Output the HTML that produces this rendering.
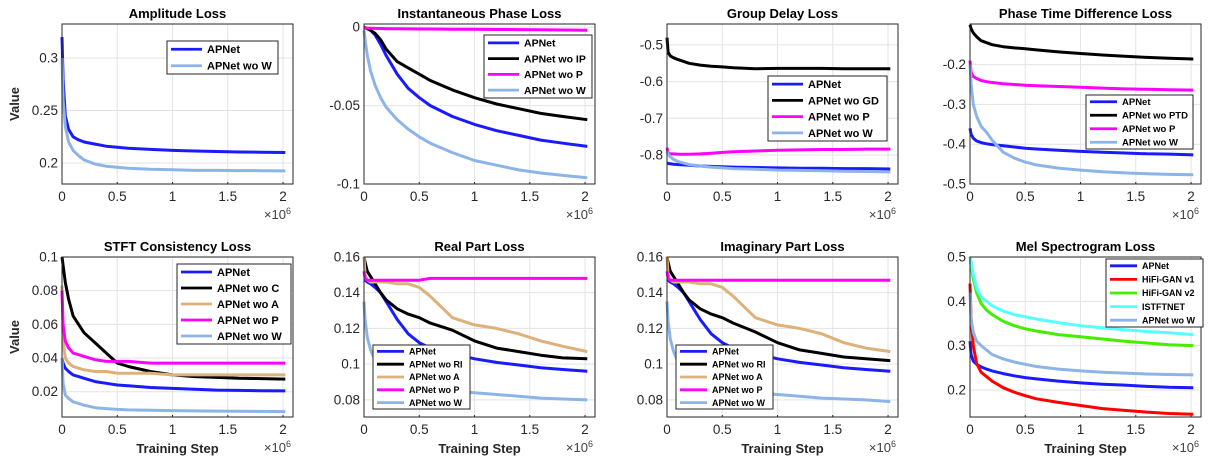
<!DOCTYPE html>
<html><head><meta charset="utf-8"><style>
body{margin:0;background:#fff;}
svg{display:block;font-family:"Liberation Sans",Arial,sans-serif;}
</style></head><body>
<svg id="fig" width="1223" height="472" viewBox="0 0 1223 472"></svg>
<script>
const xSteps=[0,0.01,0.03,0.06,0.1,0.15,0.2,0.3,0.4,0.5,0.6,0.8,1.0,1.2,1.4,1.6,1.8,2.02];
const xTicks=[0,0.5,1,1.5,2];
const xTickLabels=["0","0.5","1","1.5","2"];

const ampAPNet=[0.32,0.28,0.245,0.232,0.225,0.222,0.22,0.218,0.216,0.215,0.214,0.213,0.212,0.2115,0.211,0.2105,0.2103,0.21];
const ampWoW=[0.30,0.26,0.235,0.22,0.212,0.207,0.203,0.199,0.197,0.196,0.195,0.194,0.1935,0.193,0.193,0.1928,0.1927,0.1925];
const ampTicks=[0.2,0.25,0.3];

const ipAPNet=[0,-0.0005,-0.001,-0.002,-0.005,-0.011,-0.018,-0.03,-0.039,-0.045,-0.05,-0.057,-0.062,-0.066,-0.069,-0.072,-0.074,-0.076];
const ipWoIP=[0,-0.0003,-0.001,-0.002,-0.004,-0.008,-0.014,-0.022,-0.026,-0.03,-0.034,-0.04,-0.045,-0.049,-0.052,-0.055,-0.057,-0.059];
const ipWoP=[-0.0005,-0.0005,-0.0006,-0.0007,-0.0008,-0.0009,-0.001,-0.001,-0.0011,-0.0012,-0.0012,-0.0013,-0.0014,-0.0015,-0.0016,-0.0017,-0.0018,-0.002];
const ipWoW=[-0.002,-0.008,-0.018,-0.028,-0.037,-0.045,-0.051,-0.059,-0.065,-0.07,-0.074,-0.08,-0.085,-0.088,-0.091,-0.093,-0.0945,-0.096];
const ipTicks=[-0.1,-0.05,0];

const gdAPNet=[-0.822,-0.823,-0.824,-0.825,-0.826,-0.827,-0.828,-0.83,-0.831,-0.832,-0.833,-0.834,-0.835,-0.836,-0.836,-0.837,-0.837,-0.838];
const gdWoGD=[-0.48,-0.52,-0.53,-0.535,-0.54,-0.545,-0.55,-0.555,-0.558,-0.56,-0.562,-0.565,-0.564,-0.564,-0.564,-0.565,-0.565,-0.565];
const gdWoP=[-0.78,-0.795,-0.797,-0.797,-0.798,-0.798,-0.798,-0.797,-0.795,-0.793,-0.791,-0.789,-0.787,-0.786,-0.785,-0.785,-0.784,-0.784];
const gdWoW=[-0.79,-0.798,-0.805,-0.812,-0.818,-0.822,-0.826,-0.83,-0.833,-0.835,-0.837,-0.839,-0.841,-0.842,-0.843,-0.844,-0.845,-0.846];
const gdTicks=[-0.8,-0.7,-0.6,-0.5];

const ptdAPNet=[-0.36,-0.375,-0.385,-0.392,-0.396,-0.399,-0.401,-0.404,-0.407,-0.41,-0.412,-0.415,-0.418,-0.42,-0.422,-0.424,-0.425,-0.427];
const ptdWoPTD=[-0.1,-0.11,-0.12,-0.13,-0.14,-0.145,-0.15,-0.155,-0.158,-0.16,-0.163,-0.168,-0.172,-0.176,-0.179,-0.182,-0.184,-0.186];
const ptdWoP=[-0.19,-0.22,-0.23,-0.235,-0.24,-0.243,-0.245,-0.248,-0.25,-0.252,-0.253,-0.255,-0.257,-0.259,-0.261,-0.262,-0.263,-0.264];
const ptdWoW=[-0.2,-0.25,-0.3,-0.33,-0.355,-0.37,-0.39,-0.42,-0.435,-0.445,-0.452,-0.46,-0.465,-0.469,-0.472,-0.474,-0.476,-0.477];
const ptdTicks=[-0.5,-0.4,-0.3,-0.2];

const scAPNet=[0.04,0.037,0.034,0.032,0.03,0.029,0.028,0.026,0.025,0.024,0.0235,0.0225,0.022,0.0215,0.021,0.0208,0.0206,0.0205];
const scWoC=[0.1,0.095,0.085,0.075,0.065,0.06,0.055,0.049,0.043,0.037,0.035,0.032,0.03,0.029,0.0285,0.028,0.0278,0.0275];
const scWoA=[0.083,0.05,0.04,0.037,0.035,0.034,0.033,0.032,0.032,0.031,0.031,0.031,0.03,0.03,0.03,0.03,0.03,0.03];
const scWoP=[0.08,0.06,0.05,0.046,0.043,0.042,0.041,0.039,0.038,0.038,0.038,0.037,0.037,0.037,0.037,0.037,0.037,0.037];
const scWoW=[0.04,0.025,0.018,0.016,0.014,0.013,0.012,0.0105,0.01,0.0095,0.0092,0.009,0.0088,0.0086,0.0085,0.0084,0.0083,0.0082];
const scTicks=[0.02,0.04,0.06,0.08,0.1];

const reAPNet=[0.147,0.147,0.146,0.145,0.143,0.14,0.135,0.125,0.117,0.112,0.109,0.106,0.103,0.101,0.0995,0.098,0.097,0.096];
const reWoRI=[0.16,0.157,0.152,0.149,0.145,0.14,0.136,0.131,0.128,0.126,0.123,0.119,0.113,0.109,0.107,0.105,0.1035,0.103];
const reWoA=[0.16,0.15,0.147,0.146,0.146,0.146,0.146,0.145,0.145,0.143,0.138,0.126,0.122,0.12,0.117,0.113,0.11,0.107];
const reWoP=[0.152,0.148,0.147,0.147,0.147,0.147,0.147,0.147,0.147,0.147,0.148,0.148,0.148,0.148,0.148,0.148,0.148,0.148];
const reWoW=[0.135,0.125,0.115,0.108,0.102,0.098,0.095,0.092,0.09,0.088,0.087,0.085,0.084,0.083,0.082,0.081,0.0805,0.08];
const riTicks=[0.08,0.1,0.12,0.14,0.16];

const imAPNet=[0.147,0.147,0.146,0.145,0.143,0.14,0.135,0.125,0.117,0.112,0.109,0.106,0.103,0.101,0.0995,0.098,0.097,0.096];
const imWoRI=[0.16,0.157,0.152,0.149,0.145,0.14,0.136,0.131,0.128,0.126,0.123,0.118,0.112,0.108,0.106,0.104,0.103,0.102];
const imWoA=[0.16,0.15,0.147,0.146,0.146,0.146,0.146,0.145,0.145,0.143,0.138,0.126,0.122,0.12,0.117,0.112,0.109,0.107];
const imWoP=[0.152,0.148,0.147,0.147,0.147,0.147,0.147,0.147,0.147,0.147,0.147,0.147,0.147,0.147,0.147,0.147,0.147,0.147];
const imWoW=[0.135,0.124,0.114,0.107,0.101,0.097,0.094,0.091,0.089,0.087,0.086,0.084,0.083,0.082,0.081,0.0805,0.08,0.079];

const melAPNet=[0.31,0.28,0.265,0.258,0.252,0.247,0.243,0.237,0.232,0.228,0.225,0.22,0.216,0.213,0.211,0.208,0.206,0.205];
const melHifiV1=[0.44,0.36,0.3,0.26,0.24,0.23,0.22,0.205,0.195,0.187,0.18,0.172,0.165,0.158,0.154,0.15,0.147,0.145];
const melHifiV2=[0.5,0.48,0.45,0.42,0.395,0.38,0.37,0.355,0.345,0.338,0.333,0.325,0.32,0.315,0.31,0.306,0.302,0.3];
const melIstft=[0.5,0.49,0.46,0.43,0.41,0.4,0.39,0.378,0.37,0.365,0.36,0.352,0.345,0.34,0.336,0.332,0.329,0.325];
const melWoW=[0.42,0.36,0.33,0.31,0.3,0.29,0.28,0.27,0.263,0.258,0.253,0.247,0.243,0.24,0.238,0.236,0.235,0.234];
const melTicks=[0.2,0.3,0.4,0.5];

const C={blue:"#1a1aff",black:"#000",mag:"#ff00ff",lb:"#8db4e8",tan:"#deb07a",red:"#ff0000",green:"#44ee00",cyan:"#55ffff"};
const NS="http://www.w3.org/2000/svg";
const svg=document.getElementById("fig");
function mk(tag,attrs,parent){const e=document.createElementNS(NS,tag);for(const k in attrs)e.setAttribute(k,attrs[k]);(parent||svg).appendChild(e);return e;}

const panels=[
 {name:"amplitude",title:"Amplitude Loss",x:62,y:24,ymin:0.18,ymax:0.3325,ticks:ampTicks,ylab:true,xlab:false,
  series:[["APNet",ampAPNet,C.blue],["APNet wo W",ampWoW,C.lb]],leg:[167,41,111,33,11]},
 {name:"instantaneous-phase",title:"Instantaneous Phase Loss",x:364,y:24,ymin:-0.1,ymax:0.002,ticks:ipTicks,
  series:[["APNet",ipAPNet,C.blue],["APNet wo IP",ipWoIP,C.black],["APNet wo P",ipWoP,C.mag],["APNet wo W",ipWoW,C.lb]],leg:[484,35,108,63,10.5]},
 {name:"group-delay",title:"Group Delay Loss",x:667,y:24,ymin:-0.879,ymax:-0.443,ticks:gdTicks,
  series:[["APNet",gdAPNet,C.blue],["APNet wo GD",gdWoGD,C.black],["APNet wo P",gdWoP,C.mag],["APNet wo W",gdWoW,C.lb]],leg:[768,76,119,65,11]},
 {name:"phase-time-difference",title:"Phase Time Difference Loss",x:970,y:24,ymin:-0.5,ymax:-0.098,ticks:ptdTicks,
  series:[["APNet",ptdAPNet,C.blue],["APNet wo PTD",ptdWoPTD,C.black],["APNet wo P",ptdWoP,C.mag],["APNet wo W",ptdWoW,C.lb]],leg:[1086,95,107,54,9.5]},
 {name:"stft-consistency",title:"STFT Consistency Loss",x:62,y:257,ymin:0.005,ymax:0.1,ticks:scTicks,ylab:true,xlab:true,
  series:[["APNet",scAPNet,C.blue],["APNet wo C",scWoC,C.black],["APNet wo A",scWoA,C.tan],["APNet wo P",scWoP,C.mag],["APNet wo W",scWoW,C.lb]],leg:[177,264,114,80,11]},
 {name:"real-part",title:"Real Part Loss",x:364,y:257,ymin:0.0704,ymax:0.16,ticks:riTicks,xlab:true,
  series:[["APNet",reAPNet,C.blue],["APNet wo RI",reWoRI,C.black],["APNet wo A",reWoA,C.tan],["APNet wo P",reWoP,C.mag],["APNet wo W",reWoW,C.lb]],leg:[373,345,97,64,9]},
 {name:"imaginary-part",title:"Imaginary Part Loss",x:667,y:257,ymin:0.0704,ymax:0.16,ticks:riTicks,xlab:true,
  series:[["APNet",imAPNet,C.blue],["APNet wo RI",imWoRI,C.black],["APNet wo A",imWoA,C.tan],["APNet wo P",imWoP,C.mag],["APNet wo W",imWoW,C.lb]],leg:[676,345,97,64,9]},
 {name:"mel-spectrogram",title:"Mel Spectrogram Loss",x:970,y:257,ymin:0.139,ymax:0.5,ticks:melTicks,xlab:true,
  series:[["APNet",melAPNet,C.blue],["HiFi-GAN v1",melHifiV1,C.red],["HiFi-GAN v2",melHifiV2,C.green],["ISTFTNET",melIstft,C.cyan],["APNet wo W",melWoW,C.lb]],leg:[1106,259,97,68,9]}
];
const W=231,H=160,XMAX=2.09;

panels.forEach(p=>{
  const g=mk("g",{});
  
  
  const sx=v=>p.x+v/XMAX*W;
  const sy=v=>p.y+H-(v-p.ymin)/(p.ymax-p.ymin)*H;
  mk("rect",{x:p.x,y:p.y,width:W,height:H,fill:"#fff"},g);
  xTicks.forEach((t,i)=>{
    const X=sx(t);
    mk("line",{x1:X,y1:p.y,x2:X,y2:p.y+H,stroke:"#e3e3e3","stroke-width":1},g);
    mk("line",{x1:X,y1:p.y+H,x2:X,y2:p.y+H-2,stroke:"#262626"},g);
    const tx=mk("text",{x:X,y:p.y+H+17,"text-anchor":"middle","font-size":13.5,fill:"#262626"},g);
    tx.textContent=xTickLabels[i];
    
    
  });
  p.ticks.forEach(t=>{
    const Y=sy(t);
    mk("line",{x1:p.x,y1:Y,x2:p.x+W,y2:Y,stroke:"#e3e3e3","stroke-width":1},g);
    const tx=mk("text",{x:p.x-4,y:Y+4.5,"text-anchor":"end","font-size":13.5,fill:"#262626"},g);
    tx.textContent=String(t);
    
    
  });
  p.series.forEach(s=>{
    const pts=xSteps.map((x,i)=>sx(x).toFixed(1)+","+sy(s[1][i]).toFixed(1)).join(" ");
    const l=mk("polyline",{points:pts,fill:"none",stroke:s[2],"stroke-width":3,"stroke-linejoin":"round"},g);
    
    
  });
  mk("rect",{x:p.x,y:p.y,width:W,height:H,fill:"none",stroke:"#262626","stroke-width":1},g);
  const t=mk("text",{x:p.x+W/2,y:p.y-6,"text-anchor":"middle","font-size":13,"font-weight":"bold",fill:"#000"},g);
  t.textContent=p.title;
  
  
  const m=mk("text",{x:p.x+W-2,y:p.y+H+35,"text-anchor":"end","font-size":13,fill:"#404040"},g);
  m.innerHTML='×10<tspan dy="-5" font-size="9">6</tspan>';
  
  
  if(p.xlab){
    const xl=mk("text",{x:p.x+W/2,y:p.y+H+36,"text-anchor":"middle","font-size":13,"font-weight":"bold",fill:"#262626"},g);
    xl.textContent="Training Step";
    
    
  }
  if(p.ylab){
    const cy=p.y+H/2;
    const yl=mk("text",{x:19,y:cy,"text-anchor":"middle","font-size":13,"font-weight":"bold",fill:"#262626",transform:`rotate(-90 19 ${cy})`},g);
    yl.textContent="Value";
    
    
  }
  const [lx,ly,lw,lh,fs]=p.leg;
  const lg=mk("g",{},g);
  
  
  mk("rect",{x:lx,y:ly,width:lw,height:lh,fill:"#fff",stroke:"#262626","stroke-width":1},lg);
  const n=p.series.length,rh=lh/n;
  p.series.forEach((s,i)=>{
    const cy=ly+rh*(i+0.5);
    const sw=fs<10?27:31;
    mk("line",{x1:lx+4,y1:cy,x2:lx+4+sw,y2:cy,stroke:s[2],"stroke-width":2.8},lg);
    const tx=mk("text",{x:lx+9+sw,y:cy+fs*0.36,"font-size":fs,"font-weight":"bold",fill:"#000"},lg);
    tx.textContent=s[0];
    
    
  });
});
</script>
</body></html>
